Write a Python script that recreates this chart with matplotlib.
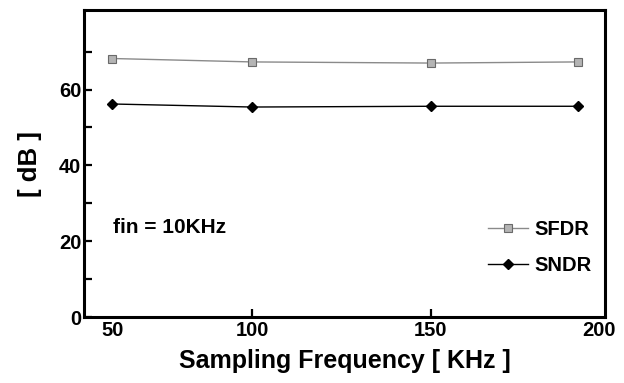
import numpy as np
from matplotlib import pyplot as plt
from matplotlib.lines import Line2D

plt.rcParams['font.family'] = ['Liberation Sans', 'DejaVu Sans']
plt.rcParams['font.weight'] = 'bold'

# values
fs_khz = [61, 100, 150, 191]
sfdr_db = [68.2, 67.3, 67.0, 67.3]
sndr_db = [56.2, 55.4, 55.6, 55.6]

tick_pos = [61, 100, 150, 197]
tick_labels = ['50', '100', '150', '200']

fig = plt.figure(figsize=(6.24, 3.83), dpi=100)
ax = fig.add_axes([0.1346, 0.1723, 0.835, 0.8016])

ax.plot(fs_khz, sfdr_db, '-', color='#8a8a8a', lw=1.0, marker='s', ms=5.5,
        mfc='#b4b4b4', mec='#6a6a6a', mew=0.8)
ax.plot(fs_khz, sndr_db, '-', color='black', lw=1.0, marker='D', ms=5.5,
        mfc='black', mec='black')

ax.set_xlim(53.1, 198.6)
ax.set_ylim(0, 81)

ax.set_xticks(tick_pos)
ax.set_xticklabels(tick_labels)
ticks = ax.xaxis.get_major_ticks()
ticks[0].tick1line.set_visible(False)
ticks[-1].tick1line.set_visible(False)

ax.set_yticks([0, 20, 40, 60])
ax.set_yticks([10, 30, 50, 70], minor=True)

ax.tick_params(axis='both', which='both', direction='in', length=6, width=1.6,
               labelsize=14.5, pad=3)
ax.tick_params(axis='y', pad=2)
for lab in ax.get_xticklabels() + ax.get_yticklabels():
    lab.set_fontweight('bold')

for sp in ax.spines.values():
    sp.set_linewidth(2.2)

ax.set_xlabel('Sampling Frequency [ KHz ]', fontsize=18, fontweight='bold', labelpad=6)
ax.set_ylabel('[ dB ]', fontsize=18.5, fontweight='bold', labelpad=12)

ax.text(0.055, 0.29, 'fin = 10KHz', transform=ax.transAxes, fontsize=15,
        fontweight='bold', va='center', ha='left')

handles = [
    Line2D([], [], color='#8a8a8a', lw=1.0, marker='s', ms=5.5,
           mfc='#b4b4b4', mec='#6a6a6a', mew=0.8),
    Line2D([], [], color='black', lw=1.0, marker='D', ms=5.5, mfc='black'),
]
leg = ax.legend(handles, ['SFDR', 'SNDR'], loc='lower right',
                bbox_to_anchor=(0.99, 0.11), frameon=False, fontsize=14.5,
                handlelength=2.0, handletextpad=0.3, labelspacing=0.85,
                borderaxespad=0)
for t in leg.get_texts():
    t.set_fontweight('bold')

fig.savefig('out.png', dpi=100)
